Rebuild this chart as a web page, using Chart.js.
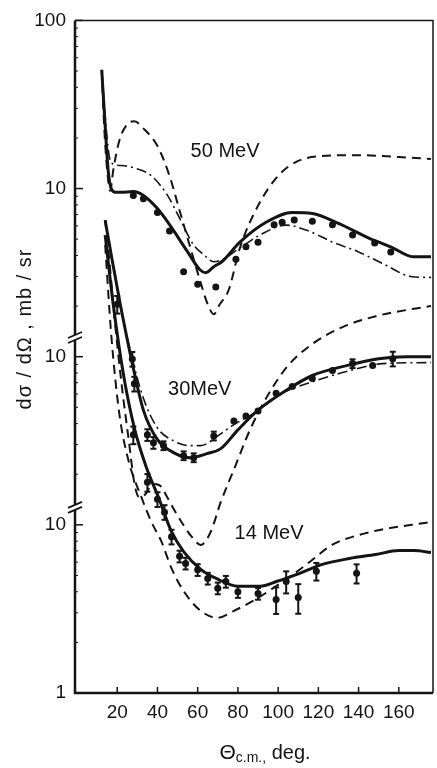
<!DOCTYPE html>
<html>
<head>
<meta charset="utf-8">
<script src="https://cdn.jsdelivr.net/npm/chart.js@4/dist/chart.umd.min.js"></script>
<style>
  html, body { margin: 0; padding: 0; background: #fff; }
  canvas { display: block; }
</style>
</head>
<body>
<canvas id="sigma" width="437" height="768"></canvas>
<script>
// angles in deg (c.m.), cross sections in mb/sr
const xTicks = [20, 40, 60, 80, 100, 120, 140, 160]
const yTicks = [1, 10, 100, 1000, 10000]
const yTickLabels = ["1", "10", "10", "10", "100"]

// every energy sits one decade above the previous one
const energies = ["14 MeV", "30MeV", "50 MeV"]
const shift = [1, 10, 100]

// 50 MeV
const ang50Solid = [12.3, 14, 15.5, 17, 19, 22, 28, 33, 40, 46, 55, 61, 64, 68, 72, 81, 94, 107, 117, 130, 144, 157, 167, 176]
const val50Solid = [50.8, 23.5, 12.8, 10.0, 9.5, 9.5, 9.6, 9.1, 7.6, 6.1, 4.2, 3.3, 3.16, 3.43, 3.67, 4.8, 6.3, 7.2, 7.1, 6.2, 5.15, 4.44, 3.93, 3.93]
const ang50Dash = [12.3, 13.5, 15, 16.5, 18, 21, 25, 28.5, 33, 40, 46, 51, 56, 61, 65, 68, 71, 75.5, 81, 90, 100, 110, 122, 140, 160, 176]
const val50Dash = [50.8, 23.5, 12.8, 9.7, 12.8, 19.2, 24.1, 25.1, 22.8, 17.9, 11.9, 7.4, 4.6, 2.88, 2.05, 1.79, 2.05, 2.51, 4.44, 7.9, 11.9, 14.6, 15.6, 15.8, 15.4, 15.0]
const ang50DashDot = [12.3, 14, 16, 18, 22, 28, 37, 45, 51, 58, 63, 68, 72, 81, 91, 104, 114, 127, 140, 153, 166, 176]
const val50DashDot = [50.8, 26.9, 15.6, 14.0, 13.7, 13.3, 11.9, 9.1, 6.66, 4.62, 4.04, 3.67, 3.77, 4.44, 5.29, 6.06, 5.66, 4.81, 4.2, 3.53, 3.0, 2.96]
const ang50Exp = [28, 33, 40, 46, 53, 60, 69, 79, 84, 90, 98, 102, 108, 117, 127, 137, 148, 156]
const val50Exp = [9.1, 8.7, 7.2, 5.6, 3.2, 2.7, 2.6, 3.8, 4.5, 4.8, 6.1, 6.3, 6.5, 6.4, 6.1, 5.3, 4.75, 4.2]

// 30 MeV
const ang30Solid = [14, 17, 21.5, 27.5, 33, 40, 48, 56, 65, 71.5, 80, 90, 104, 117, 134, 150, 164, 176]
const val30Solid = [64.8, 40.4, 20.5, 9.1, 4.81, 3.21, 2.69, 2.51, 2.66, 2.84, 3.67, 4.81, 6.31, 7.73, 8.85, 9.73, 10.0, 10.0]
const ang30Dash = [14, 15.8, 18.8, 22.3, 25.7, 28.7, 31, 34, 37.5, 41, 45, 49, 57, 61.5, 66.5, 71.5, 78, 86, 94.6, 104.5, 117, 132, 148.5, 166.5, 176]
const val30Dash = [64.8, 40.4, 16.3, 6.66, 3.21, 1.72, 1.46, 1.52, 1.75, 1.72, 1.45, 1.19, 0.85, 0.76, 0.91, 1.37, 2.13, 3.67, 5.82, 8.73, 11.9, 15.0, 17.4, 19.2, 20.0]
const ang30DashDot = [14, 17, 21.5, 27.5, 33, 40, 48, 56, 61.5, 70, 77, 88, 102, 119, 136, 152, 176]
const val30DashDot = [64.8, 40.4, 20.5, 9.73, 5.66, 3.77, 3.16, 2.96, 2.96, 3.38, 3.88, 4.62, 6.06, 7.22, 8.28, 9.1, 9.22]
const ang30Exp = [20, 27.5, 28.5, 35, 38, 43, 53, 58, 68, 78, 84, 90, 99, 107, 117, 127, 137, 147, 157]
const val30Exp = [20.5, 9.7, 6.9, 3.43, 3.08, 2.96, 2.58, 2.51, 3.38, 4.15, 4.44, 4.75, 6.06, 6.66, 7.42, 8.28, 9.1, 8.85, 9.73]
const err30Exp = [0.12, 0.1, 0.1, 0.08, 0.08, 0.06, 0.06, 0.06, 0.06, 0, 0, 0, 0, 0, 0, 0, 0.06, 0, 0.1]

// 14 MeV
const ang14Solid = [14, 18, 23, 28.5, 34.5, 40.5, 47, 53, 61.5, 70, 80, 91, 99.5, 110.7, 122, 135.5, 148.5, 160, 167.5, 176]
const val14Solid = [529, 205, 79.4, 37.7, 21.9, 14.6, 9.1, 6.94, 5.44, 4.75, 4.32, 4.32, 4.62, 5.15, 5.82, 6.31, 6.66, 7.03, 7.03, 6.85]
const ang14Dash = [14, 17, 21, 25.5, 32, 37, 42, 47, 53, 61.5, 70, 78, 87.5, 97.5, 107.5, 116, 127, 140.5, 153.5, 166.5, 176]
const val14Dash = [462, 136, 46.2, 24.4, 14.6, 10.4, 7.94, 5.51, 4.04, 3.08, 2.8, 3.08, 3.53, 4.2, 5.08, 6.06, 7.63, 8.73, 9.47, 10.0, 10.4]
const ang14Exp = [28, 35, 40, 43.5, 47, 51, 54, 60, 65, 70, 74, 80, 90, 99, 104, 110, 119, 139]
const val14Exp = [34.3, 17.9, 14.2, 11.9, 8.5, 6.5, 5.9, 5.4, 4.8, 4.2, 4.6, 4.0, 3.9, 3.6, 4.6, 3.7, 5.3, 5.15]
const err14Exp = [0.12, 0.12, 0.1, 0.1, 0.1, 0.08, 0.08, 0.08, 0.08, 0.08, 0.08, 0.08, 0.08, 0.18, 0.15, 0.2, 0.12, 0.13]

const ink = "#141414"
const fam = "'Liberation Sans', Arial, sans-serif"

function pts(ang, val, k) {
  return ang.map((a, i) => ({ x: a, y: val[i] * k }))
}

function curve(ang, val, k, style) {
  const base = {
    data: pts(ang, val, k),
    borderColor: ink,
    pointRadius: 0,
    fill: false,
    cubicInterpolationMode: "monotone",
  }
  if (style == "solid") return { ...base, borderWidth: 3 }
  if (style == "dash") return { ...base, borderWidth: 2, borderDash: [9, 6] }
  return { ...base, borderWidth: 1.6, borderDash: [10, 4, 2, 4] }
}

function points(ang, val, k, err) {
  return {
    data: pts(ang, val, k),
    showLine: false,
    pointRadius: 3.5,
    pointBackgroundColor: ink,
    pointBorderWidth: 0,
    errors: err,
    shift: k,
  }
}

const datasets = [
  curve(ang50Solid, val50Solid, shift[2], "solid"),
  curve(ang50Dash, val50Dash, shift[2], "dash"),
  curve(ang50DashDot, val50DashDot, shift[2], "dashdot"),
  curve(ang30Solid, val30Solid, shift[1], "solid"),
  curve(ang30Dash, val30Dash, shift[1], "dash"),
  curve(ang30DashDot, val30DashDot, shift[1], "dashdot"),
  curve(ang14Solid, val14Solid, shift[0], "solid"),
  curve(ang14Dash, val14Dash, shift[0], "dash"),
  points(ang50Exp, val50Exp, shift[2], null),
  points(ang30Exp, val30Exp, shift[1], err30Exp),
  points(ang14Exp, val14Exp, shift[0], err14Exp),
]

function seg(ctx, x1, y1, x2, y2) {
  ctx.beginPath()
  ctx.moveTo(x1, y1)
  ctx.lineTo(x2, y2)
  ctx.stroke()
}

const errorBars = {
  id: "errorBars",
  afterDatasetsDraw(chart) {
    const { ctx, scales: { y } } = chart
    ctx.save()
    ctx.strokeStyle = ink
    ctx.lineWidth = 2
    chart.data.datasets.forEach((ds, i) => {
      if (!ds.errors) return
      const meta = chart.getDatasetMeta(i)
      meta.data.forEach((p, j) => {
        const e = ds.errors[j]
        if (!e) return
        const v = ds.data[j].y
        const lo = y.getPixelForValue(v * (1 - e))
        const hi = y.getPixelForValue(v * (1 + e))
        seg(ctx, p.x, lo, p.x, hi)
        seg(ctx, p.x - 3, lo, p.x + 3, lo)
        seg(ctx, p.x - 3, hi, p.x + 3, hi)
      })
    })
    ctx.restore()
  },
}

const frame = {
  id: "frame",
  afterDraw(chart, args, opts) {
    const { ctx, chartArea: a, scales: { x, y } } = chart
    ctx.save()
    ctx.strokeStyle = ink
    ctx.fillStyle = ink
    ctx.lineWidth = 1.5
    ctx.beginPath()
    ctx.moveTo(a.left, a.top)
    ctx.lineTo(a.right, a.top)
    ctx.lineTo(a.right, a.bottom)
    ctx.stroke()
    ctx.lineWidth = 2.5
    ctx.beginPath()
    ctx.moveTo(a.left, a.top)
    ctx.lineTo(a.left, a.bottom)
    ctx.lineTo(a.right, a.bottom)
    ctx.stroke()

    // inward ticks
    ctx.lineWidth = 1.5
    xTicks.forEach(v => {
      const px = x.getPixelForValue(v)
      seg(ctx, px, a.bottom, px, a.bottom - 6)
    })
    yTicks.forEach(v => {
      const py = y.getPixelForValue(v)
      seg(ctx, a.left, py, a.left + 8, py)
    })
    ctx.lineWidth = 1
    for (let d = 1; d < 10000; d *= 10) {
      for (let m = 2; m <= 9; m++) {
        const py = y.getPixelForValue(m * d)
        seg(ctx, a.left, py, a.left + 3, py)
      }
    }

    // axis breaks
    opts.breaks.forEach(v => {
      const py = y.getPixelForValue(v)
      ctx.fillStyle = "#fff"
      ctx.fillRect(a.left - 3, py - 2, 6, 5)
      ctx.strokeStyle = ink
      ctx.lineWidth = 1.8
      seg(ctx, a.left - 7, py + 1, a.left + 7, py - 5)
      seg(ctx, a.left - 7, py + 6, a.left + 7, py)
    })

    // energy labels
    ctx.fillStyle = ink
    ctx.font = "20px " + fam
    ctx.textAlign = "center"
    ctx.textBaseline = "middle"
    opts.notes.forEach(n => {
      ctx.fillText(n.text, x.getPixelForValue(n.x), y.getPixelForValue(n.y))
    })

    // x title with subscript
    const parts = [["Θ", "21px", 0], ["c.m.,", "14px", 5], [" deg.", "20px", 0]]
    let w = 0
    parts.forEach(p => { ctx.font = p[1] + " " + fam; w += ctx.measureText(p[0]).width })
    let cx = opts.xTitle.x - w / 2
    ctx.textAlign = "left"
    parts.forEach(p => {
      ctx.font = p[1] + " " + fam
      ctx.fillText(p[0], cx, opts.xTitle.y + p[2])
      cx += ctx.measureText(p[0]).width
    })

    // y title
    ctx.save()
    ctx.translate(opts.yTitle.x, opts.yTitle.y)
    ctx.rotate(-Math.PI / 2)
    ctx.font = "20px " + fam
    ctx.letterSpacing = "1px"
    ctx.textAlign = "center"
    ctx.fillText("dσ / dΩ , mb / sr", 0, 0)
    ctx.restore()
    ctx.restore()
  },
}

new Chart(document.getElementById("sigma"), {
  type: "line",
  data: { datasets },
  options: {
    responsive: false,
    animation: false,
    layout: { padding: { top: 13, right: 4, left: 0, bottom: 0 } },
    plugins: {
      legend: { display: false },
      tooltip: { enabled: false },
      frame: {
        breaks: [131, 12.8],
        notes: [
          { text: energies[2], x: 73.6, y: 16.5 * shift[2] },
          { text: energies[1], x: 61, y: 6.4 * shift[1] },
          { text: energies[0], x: 95.5, y: 8.85 * shift[0] },
        ],
        xTitle: { x: 265, y: 753 },
        yTitle: { x: 25, y: 329 },
      },
    },
    scales: {
      x: {
        type: "linear",
        min: -1,
        max: 177,
        grid: { display: false, drawTicks: false },
        border: { display: false },
        afterBuildTicks: s => { s.ticks = xTicks.map(v => ({ value: v })) },
        ticks: { color: ink, font: { family: fam, size: 19 }, padding: 8, maxRotation: 0 },
        afterFit: s => { s.height = 75 },
      },
      y: {
        type: "logarithmic",
        min: 1,
        max: 10000,
        grid: { display: false, drawTicks: false },
        border: { display: false },
        afterBuildTicks: s => { s.ticks = yTicks.map(v => ({ value: v, major: true })) },
        ticks: {
          color: ink,
          font: { family: fam, size: 19 },
          padding: 9,
          callback: v => yTickLabels[yTicks.indexOf(v)] ?? "",
        },
        afterFit: s => { s.width = 75 },
      },
    },
  },
  plugins: [errorBars, frame],
})
</script>
</body>
</html>
